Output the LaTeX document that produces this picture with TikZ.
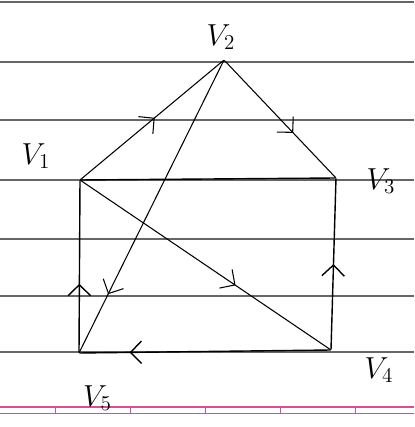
\documentclass[tikz,border=0pt]{standalone}
\usepackage{amsmath,amssymb}
\usepackage{tikz}
\usetikzlibrary{arrows.meta, decorations.markings}

\tikzset{
  vtx/.style={inner sep=0pt, minimum size=0pt},
  vlabel/.style={font=\LARGE},
  midarrow/.style={postaction={decorate}, decoration={markings,
      mark=at position #1 with {\arrow{Straight Barb[length=2.2mm,width=4.5mm]}}}},
  ruled/.style={gray!80!black, line width=0.7pt},
}

\begin{document}
\begin{tikzpicture}
			\useasboundingbox (0,0) rectangle (8.28,8.54);
			% paper lines
			\foreach \y in {8.50,7.30,6.14,4.94,3.76,2.62,1.50}
				\draw[ruled] (0,\y) -- (8.28,\y);
			\draw[magenta!60!gray, line width=0.7pt] (0,0.40) -- (8.28,0.40);
			\draw[magenta!60!gray, line width=0.7pt] (0,0.27) -- (8.28,0.27);
			\foreach \x in {1.1,2.6,4.1,5.6,7.1}
				\draw[magenta!60!gray] (\x,0.27) -- (\x,0.40);
			% vertices
			\node[vtx] (v1) at (1.60,4.94) {};
			\node[vtx] (v2) at (4.48,7.34) {};
			\node[vtx] (v3) at (6.72,4.98) {};
			\node[vtx] (v4) at (6.62,1.54) {};
			\node[vtx] (v5) at (1.58,1.48) {};
			\node[vlabel] (l1) at (0.72,5.42) {$V_1$};
			\node[vlabel] (l2) at (4.42,7.80) {$V_2$};
			\node[vlabel] (l3) at (7.62,4.92) {$V_3$};
			\node[vlabel] (l4) at (7.58,1.14) {$V_4$};
			\node[vlabel] (l5) at (1.95,0.58) {$V_5$};
			% edges
			\draw[semithick, midarrow=0.52] (v1) -- (v2);
			\draw[semithick, midarrow=0.62] (v2) -- (v3);
			\draw[thick] (v1) -- (v3);
			\draw[thick, midarrow=0.5] (v4) -- (v3);
			\draw[thick, midarrow=0.8] (v4) -- (v5);
			\draw[thick, midarrow=0.4] (v5) -- (v1);
			\draw[semithick, midarrow=0.62] (v1) -- (v4);
			\draw[semithick, midarrow=0.8] (v2) -- (v5);
		\end{tikzpicture}
\end{document}
